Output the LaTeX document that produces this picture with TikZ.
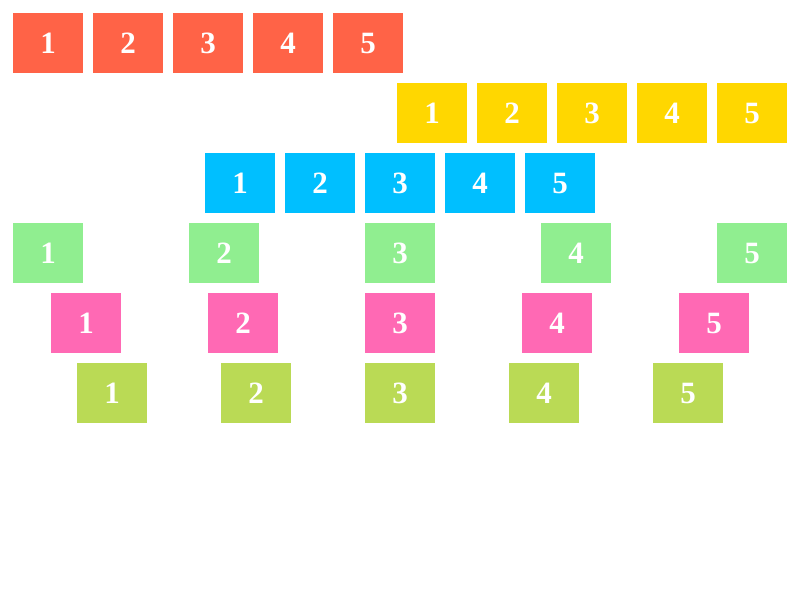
\documentclass[tikz,border=0pt]{standalone}
\usepackage{fontspec}
\setmainfont{Liberation Serif}
\usepackage{xcolor}
\usetikzlibrary{positioning}

\definecolor{tomato}{HTML}{FF6347}
\definecolor{goldbox}{HTML}{FFD700}
\definecolor{skybox}{HTML}{00BFFF}
\definecolor{greenbox}{HTML}{90EE90}
\definecolor{pinkbox}{HTML}{FF69B4}
\definecolor{limebox}{HTML}{BADA55}

\begin{document}
\begin{tikzpicture}[
        x=1pt, y=-1pt,
        item/.style={rectangle, minimum width=70pt, minimum height=60pt, inner sep=0pt, text=white, font=\fontsize{31}{31}\selectfont\bfseries}
    ]
        \useasboundingbox (0,0) rectangle (800,600);

        % Row 1: flex-start
        \foreach \i in {1,...,5}
            \node[item, fill=tomato] (start\i) at ({48+80*(\i-1)},43) {\i};

        % Row 2: flex-end
        \foreach \i in {1,...,5}
            \node[item, fill=goldbox] (end\i) at ({432+80*(\i-1)},113) {\i};

        % Row 3: center
        \foreach \i in {1,...,5}
            \node[item, fill=skybox] (center\i) at ({240+80*(\i-1)},183) {\i};

        % Row 4: space-between
        \foreach \i in {1,...,5}
            \node[item, fill=greenbox] (between\i) at ({48+176*(\i-1)},253) {\i};

        % Row 5: space-around
        \foreach \i in {1,...,5}
            \node[item, fill=pinkbox] (around\i) at ({86+157*(\i-1)},323) {\i};

        % Row 6: space-evenly
        \foreach \i in {1,...,5}
            \node[item, fill=limebox] (evenly\i) at ({112+144*(\i-1)},393) {\i};
    \end{tikzpicture}
\end{document}
